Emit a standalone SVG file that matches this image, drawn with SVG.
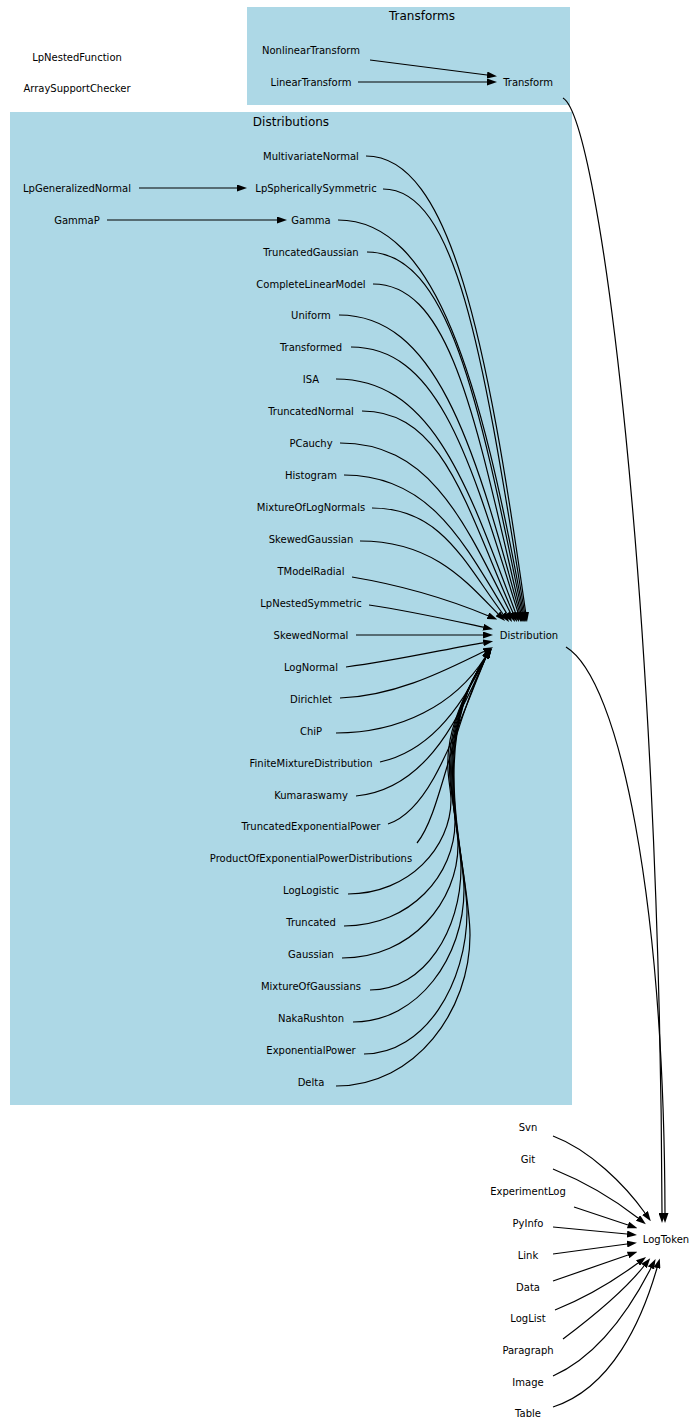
<svg xmlns="http://www.w3.org/2000/svg" width="691" height="1418" viewBox="0 0 691 1418">
<style>
text{font-family:"DejaVu Sans","Liberation Sans",sans-serif;font-size:10px;fill:#000;text-anchor:middle}
.title{font-size:12px}
.cl{fill:#add8e6;stroke:none}
.e path{fill:none;stroke:#000;stroke-width:1.2;marker-end:url(#ah)}
</style>
<defs>
<marker id="ah" markerWidth="10" markerHeight="7" refX="0" refY="3.5" orient="auto" markerUnits="userSpaceOnUse"><path d="M0,0 L10,3.5 L0,7 z" fill="#000"/></marker>
</defs>
<rect width="691" height="1418" fill="#fff"/>
<g id="cluster-Transforms"><rect class="cl" x="247" y="7" width="323" height="98"/><text class="title" x="422" y="20">Transforms</text></g>
<g id="cluster-Distributions"><rect class="cl" x="10" y="112" width="562" height="993"/><text class="title" x="291" y="126">Distributions</text></g>

<g class="e" id="connectors">
<path d="M370,60 L487,75"/>
<path d="M358,82 L487,82"/>
<path d="M139,188 L237,188"/>
<path d="M107,220 L277,220"/>
<path d="M366,156 C450.6,156 487.2,340.8 525.6,612.1"/>
<path d="M383,189 C458,189 483.8,361.4 524.4,612.1"/>
<path d="M338,220 C436.2,220 480.9,381 523.2,612.2"/>
<path d="M367,252 C449,252 478.8,400.5 522,612.2"/>
<path d="M373,284 C451.3,284 475.4,420.6 520.7,612.3"/>
<path d="M339,315 C434.6,315 473.1,440.3 519.4,612.3"/>
<path d="M351,347 C439.5,347 470.3,460.8 518,612.5"/>
<path d="M336,379 C431.1,379 466.5,481.4 515.5,612.6"/>
<path d="M362,411 C442,411 464.6,501.8 513,612.8"/>
<path d="M340,443 C430.4,443 464.6,522 510.5,613.1"/>
<path d="M344,475 C430.1,475 463.6,542.6 506.8,613.5"/>
<path d="M372,508 C441.4,508 464.6,562.8 503,614"/>
<path d="M360,541 C433.1,541 466.5,581.8 498,613.9"/>
<path d="M352,577 C400,585 450,600 488,615.7"/>
<path d="M369,605 C410,611 450,620 483.2,627.2"/>
<path d="M356,635 L483,635"/>
<path d="M346,667 C400,660 450,648 483.2,642.8"/>
<path d="M340,698 C400,696 455,665 484,651.5"/>
<path d="M336,733 C400,733 455,705 485,657.5"/>
<path d="M380,762 C425,752 458,715 485.5,657.5"/>
<path d="M356,796 C420,790 455,730 486,657"/>
<path d="M388,824 C430,810 452,740 486,657"/>
<path d="M417,843 C440,815 448,740 486,657"/>
<path d="M348,894 C409,894 451,847 451,800 C451,776 432,745 486,657"/>
<path d="M344,926 C411,926 455,874 455,822 C455,792 430,745 486,657"/>
<path d="M342,958 C412,958 458,901 458,845 C458,808 429,745 486,657"/>
<path d="M370,990 C425,990 461,929 461,868 C461,825 428,745 486,657"/>
<path d="M353,1022 C419,1022 464,956 464,890 C464,840 427,745 486,657"/>
<path d="M364,1054 C425,1054 467,983 467,912 C467,855 426,745 486,657"/>
<path d="M336,1086 C416,1086 470,1010 470,935 C470,870 425,745 486,657"/>
<path d="M563,98 C600,120 660,600 662,1213"/>
<path d="M566,647 C620,680 664,900 665,1213"/>
<path d="M553,1136 C590,1150 625,1185 645,1213"/>
<path d="M553,1169 C585,1182 615,1200 638,1218"/>
<path d="M574,1207 L628,1225"/>
<path d="M553,1227 L627,1234"/>
<path d="M553,1254 L627,1244"/>
<path d="M553,1281 L628,1255"/>
<path d="M555,1310 C585,1298 615,1280 638,1263"/>
<path d="M563,1339 C595,1315 625,1290 644,1266"/>
<path d="M553,1376 C600,1355 632,1305 651,1268"/>
<path d="M553,1407 C612,1388 642,1320 657,1268"/>
</g>

<g id="n-LpNestedFunction"><text x="77" y="60.5">LpNestedFunction</text></g>
<g id="n-ArraySupportChecker"><text x="77" y="91.5">ArraySupportChecker</text></g>
<g id="n-NonlinearTransform"><text x="311" y="53.5">NonlinearTransform</text></g>
<g id="n-LinearTransform"><text x="311" y="85.5">LinearTransform</text></g>
<g id="n-Transform"><text x="528" y="85.5">Transform</text></g>
<g id="n-MultivariateNormal"><text x="311" y="159.5">MultivariateNormal</text></g>
<g id="n-LpGeneralizedNormal"><text x="77" y="191.5">LpGeneralizedNormal</text></g>
<g id="n-LpSphericallySymmetric"><text x="316" y="191.5">LpSphericallySymmetric</text></g>
<g id="n-GammaP"><text x="77" y="223.5">GammaP</text></g>
<g id="n-Gamma"><text x="311" y="223.5">Gamma</text></g>
<g id="n-TruncatedGaussian"><text x="311" y="255.5">TruncatedGaussian</text></g>
<g id="n-CompleteLinearModel"><text x="311" y="287.5">CompleteLinearModel</text></g>
<g id="n-Uniform"><text x="311" y="318.5">Uniform</text></g>
<g id="n-Transformed"><text x="311" y="350.5">Transformed</text></g>
<g id="n-ISA"><text x="311" y="382.5">ISA</text></g>
<g id="n-TruncatedNormal"><text x="311" y="414.5">TruncatedNormal</text></g>
<g id="n-PCauchy"><text x="311" y="446.5">PCauchy</text></g>
<g id="n-Histogram"><text x="311" y="478.5">Histogram</text></g>
<g id="n-MixtureOfLogNormals"><text x="311" y="510.5">MixtureOfLogNormals</text></g>
<g id="n-SkewedGaussian"><text x="311" y="542.5">SkewedGaussian</text></g>
<g id="n-TModelRadial"><text x="311" y="574.5">TModelRadial</text></g>
<g id="n-LpNestedSymmetric"><text x="311" y="606.5">LpNestedSymmetric</text></g>
<g id="n-SkewedNormal"><text x="311" y="638.5">SkewedNormal</text></g>
<g id="n-Distribution"><text x="529" y="638.5">Distribution</text></g>
<g id="n-LogNormal"><text x="311" y="670.5">LogNormal</text></g>
<g id="n-Dirichlet"><text x="311" y="702.5">Dirichlet</text></g>
<g id="n-ChiP"><text x="311" y="734.5">ChiP</text></g>
<g id="n-FiniteMixtureDistribution"><text x="311" y="766.5">FiniteMixtureDistribution</text></g>
<g id="n-Kumaraswamy"><text x="311" y="798.5">Kumaraswamy</text></g>
<g id="n-TruncatedExponentialPower"><text x="311" y="829.5">TruncatedExponentialPower</text></g>
<g id="n-ProductOfExponentialPowerDistributions"><text x="311" y="861.5">ProductOfExponentialPowerDistributions</text></g>
<g id="n-LogLogistic"><text x="311" y="893.5">LogLogistic</text></g>
<g id="n-Truncated"><text x="311" y="925.5">Truncated</text></g>
<g id="n-Gaussian"><text x="311" y="957.5">Gaussian</text></g>
<g id="n-MixtureOfGaussians"><text x="311" y="989.5">MixtureOfGaussians</text></g>
<g id="n-NakaRushton"><text x="311" y="1021.5">NakaRushton</text></g>
<g id="n-ExponentialPower"><text x="311" y="1053.5">ExponentialPower</text></g>
<g id="n-Delta"><text x="311" y="1085.5">Delta</text></g>
<g id="n-Svn"><text x="528" y="1130.5">Svn</text></g>
<g id="n-Git"><text x="528" y="1162.5">Git</text></g>
<g id="n-ExperimentLog"><text x="528" y="1194.5">ExperimentLog</text></g>
<g id="n-PyInfo"><text x="528" y="1226.5">PyInfo</text></g>
<g id="n-Link"><text x="528" y="1258.5">Link</text></g>
<g id="n-Data"><text x="528" y="1290.5">Data</text></g>
<g id="n-LogList"><text x="528" y="1321.5">LogList</text></g>
<g id="n-Paragraph"><text x="528" y="1353.5">Paragraph</text></g>
<g id="n-Image"><text x="528" y="1385.5">Image</text></g>
<g id="n-Table"><text x="528" y="1417">Table</text></g>
<g id="n-LogToken"><text x="666" y="1242.5">LogToken</text></g>
</svg>
